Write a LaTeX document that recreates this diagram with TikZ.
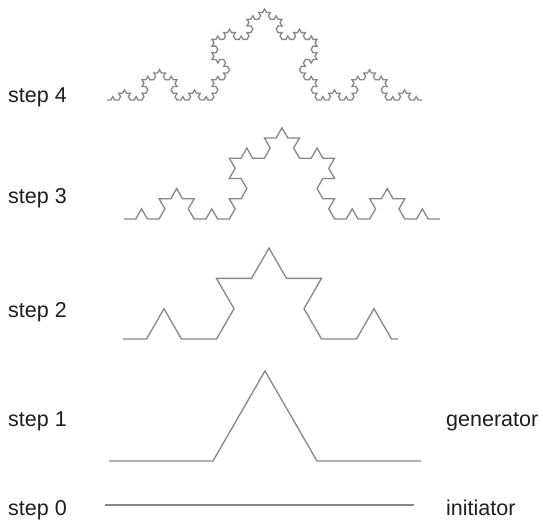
\documentclass[tikz,border=0pt]{standalone}
\usepackage{fontspec}
\setmainfont{Liberation Sans}
\usetikzlibrary{lindenmayersystems}
\definecolor{curvegray}{RGB}{135,135,135}
\definecolor{textgray}{RGB}{30,30,30}
\pgfdeclarelindenmayersystem{koch}{\rule{F -> F+F--F+F}}
\begin{document}
\begin{tikzpicture}[x=1pt,y=1pt,
  lbl/.style={anchor=west,inner sep=0pt,text=textgray,font=\fontsize{21.5}{26}\selectfont},
  curve/.style={draw=curvegray,line width=1.3pt,line join=miter}]
\useasboundingbox (0,0) rectangle (543,520);
% labels
\node[lbl] (s4) at (8,423) {step 4};
\node[lbl] (s3) at (8,322) {step 3};
\node[lbl] (s2) at (8,208) {step 2};
\node[lbl] (s1) at (8,99) {step 1};
\node[lbl] (s0) at (8,10) {step 0};
\node[lbl] (gen) at (446,98) {generator};
\node[lbl] (ini) at (446,12) {initiator};
% step 4
\begin{scope}[shift={(107,420)}]
\draw[curve,lindenmayer system={koch, axiom=F, order=4, step=3.889pt, angle=60}] lindenmayer system;
\end{scope}
% step 3
\begin{scope}[shift={(124,301)}]
\draw[curve,lindenmayer system={koch, axiom=F, order=3, step=11.70pt, angle=60}] lindenmayer system;
\end{scope}
% step 2 (tails shortened)
\begin{scope}
\clip (123,170) rectangle (398,290);
\begin{scope}[shift={(111.5,181)}]
\draw[curve,lindenmayer system={koch, axiom=F, order=2, step=35pt, angle=60}] lindenmayer system;
\end{scope}
\end{scope}
% step 1
\begin{scope}[shift={(109,59)}]
\draw[curve,lindenmayer system={koch, axiom=F, order=1, step=104pt, angle=60}] lindenmayer system;
\end{scope}
% step 0
\coordinate (i0) at (105,15);
\coordinate (i1) at (414,15);
\draw[curve] (i0) -- (i1);
\end{tikzpicture}
\end{document}
